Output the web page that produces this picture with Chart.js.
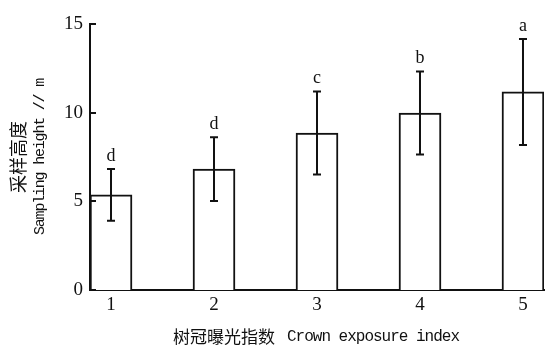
<!DOCTYPE html>
<html>
<head>
<meta charset="utf-8">
<script src="https://cdn.jsdelivr.net/npm/chart.js@4"></script>
<style>
  html, body { margin: 0; padding: 0; background: #fff; }
  #wrap { width: 546px; height: 346px; }
</style>
</head>
<body>
<div id="wrap"><canvas id="chart"></canvas></div>
<script>
const exposureIndex = [1, 2, 3, 4, 5];
const heightMean = [5.36, 6.82, 8.85, 9.98, 11.17];
const heightSd = [1.46, 1.8, 2.34, 2.34, 2.99];
const groupLetters = ['d', 'd', 'c', 'b', 'a'];
const yTicks = [0, 5, 10, 15];

const INK = '#111';

// draw a title made of a CJK part and a tighter Latin part, centred on (0,0)
function mixedTitle(ctx, cjk, cjkSize, latin, latinSize, spacing, gap) {
  ctx.font = cjkSize + 'px "Noto Sans CJK SC"';
  ctx.letterSpacing = '0px';
  const w1 = ctx.measureText(cjk).width;
  ctx.font = latinSize + 'px "Liberation Mono"';
  ctx.letterSpacing = spacing + 'px';
  const w2 = ctx.measureText(latin).width;
  const x0 = -(w1 + gap + w2) / 2;
  ctx.textAlign = 'left';
  ctx.textBaseline = 'middle';
  ctx.font = cjkSize + 'px "Noto Sans CJK SC"';
  ctx.letterSpacing = '0px';
  ctx.fillText(cjk, x0, 0);
  ctx.font = latinSize + 'px "Liberation Mono"';
  ctx.letterSpacing = spacing + 'px';
  ctx.fillText(latin, x0 + w1 + gap, 0);
  ctx.letterSpacing = '0px';
}

// error bars, significance letters, inward y ticks, axis titles
const extras = {
  id: 'extras',
  afterDatasetsDraw(chart) {
    const ctx = chart.ctx;
    const xs = chart.scales.x, ys = chart.scales.y;
    ctx.save();
    ctx.strokeStyle = INK;
    ctx.fillStyle = INK;
    ctx.lineWidth = 2;
    ctx.font = '18px "Liberation Serif"';
    ctx.textAlign = 'center';
    ctx.textBaseline = 'bottom';
    exposureIndex.forEach((c, i) => {
      const x = xs.getPixelForValue(c);
      const top = ys.getPixelForValue(heightMean[i] + heightSd[i]);
      const bot = ys.getPixelForValue(heightMean[i] - heightSd[i]);
      ctx.beginPath();
      ctx.moveTo(x, top); ctx.lineTo(x, bot);
      ctx.moveTo(x - 4, top); ctx.lineTo(x + 4, top);
      ctx.moveTo(x - 4, bot); ctx.lineTo(x + 4, bot);
      ctx.stroke();
      ctx.fillText(groupLetters[i], x, top - 4);
    });
    ctx.restore();
  },
  afterDraw(chart) {
    const ctx = chart.ctx;
    const ys = chart.scales.y;
    const area = chart.chartArea;
    ctx.save();
    ctx.strokeStyle = INK;
    ctx.lineWidth = 2;
    yTicks.forEach(v => {
      const y = Math.round(ys.getPixelForValue(v));
      ctx.beginPath();
      ctx.moveTo(area.left, y); ctx.lineTo(area.left + 6, y);
      ctx.stroke();
    });
    ctx.fillStyle = INK;

    // x title
    ctx.save();
    ctx.translate((area.left + area.right) / 2 - 1, 337);
    mixedTitle(ctx, '树冠曝光指数', 17, 'Crown exposure index', 16, -1, 12);
    ctx.restore();

    // y title, two rotated lines
    const cy = (area.top + area.bottom) / 2;
    ctx.translate(0, cy);
    ctx.rotate(-Math.PI / 2);
    ctx.textAlign = 'center';
    ctx.textBaseline = 'middle';
    ctx.font = '18px "Noto Sans CJK SC"';
    ctx.fillText('采样高度', 0, 18);
    ctx.font = '15px "Liberation Mono"';
    ctx.letterSpacing = '-1.2px';
    ctx.fillText('Sampling height // m', 0, 40);
    ctx.letterSpacing = '0px';
    ctx.restore();
  }
};

new Chart(document.getElementById('chart'), {
  type: 'bar',
  data: {
    datasets: [{
      data: exposureIndex.map((c, i) => ({ x: c, y: heightMean[i] })),
      backgroundColor: '#fff',
      borderColor: INK,
      borderWidth: 2,
      barThickness: 42
    }]
  },
  options: {
    responsive: true,
    maintainAspectRatio: false,
    animation: false,
    layout: { padding: { top: 24, right: 2, left: 0, bottom: 0 } },
    plugins: { legend: { display: false }, tooltip: { enabled: false } },
    scales: {
      x: {
        type: 'linear',
        offset: false,
        min: 0.796,
        max: 5.204,
        afterBuildTicks: s => { s.ticks = exposureIndex.map(v => ({ value: v })); },
        afterFit: s => { s.height = 56; },
        grid: { display: false, drawTicks: false, offset: false },
        border: { display: true, color: INK, width: 2 },
        ticks: {
          padding: 4,
          color: INK,
          font: { family: 'Liberation Serif', size: 19 }
        },
        title: { display: false }
      },
      y: {
        min: 0,
        max: 15,
        afterBuildTicks: s => { s.ticks = yTicks.map(v => ({ value: v })); },
        afterFit: s => { s.width = 90; },
        grid: { display: false, drawTicks: false },
        border: { display: true, color: INK, width: 2 },
        ticks: {
          padding: 7,
          color: INK,
          font: { family: 'Liberation Serif', size: 19 }
        }
      }
    }
  },
  plugins: [extras]
});
</script>
</body>
</html>
